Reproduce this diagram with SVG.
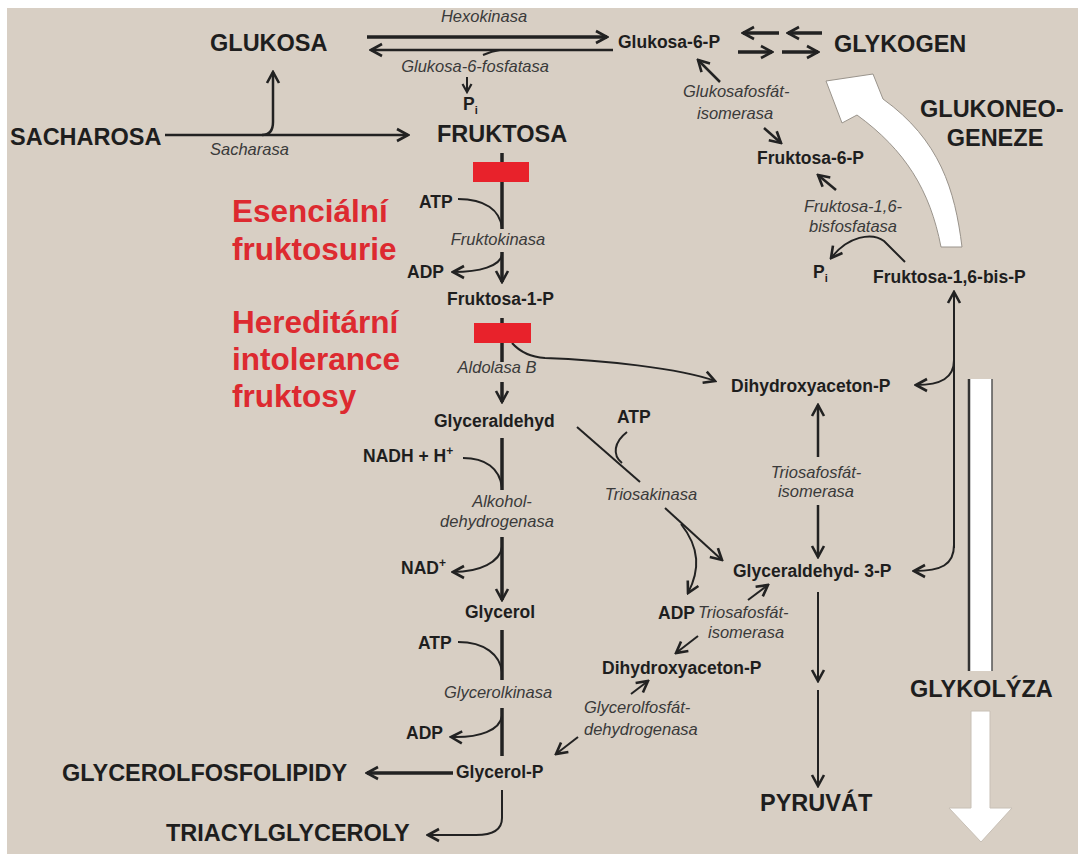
<svg xmlns="http://www.w3.org/2000/svg" width="1078" height="854" viewBox="0 0 1078 854">
<defs>
<style>
.t{font-family:"Liberation Sans",Arial,sans-serif;}
.b{font-weight:bold;fill:#1e1e1e;}
.big{font-size:23.5px;}
.mid{font-size:17.5px;}
.it{font-style:italic;font-size:16.5px;fill:#3a3a3a;}
.red{font-weight:bold;fill:#dd2a30;font-size:31.5px;}
.ln{stroke:#222;stroke-width:2.5;fill:none;}
.thk{stroke-width:3.5;}
.thn{stroke-width:2;}
.blk{fill:#e8222b;}
</style>
<marker id="ah" viewBox="-13 -8 15 16" markerWidth="15" markerHeight="16" refX="0" refY="0" orient="auto" markerUnits="userSpaceOnUse">
<path d="M-11,-6 L0,0 L-11,6" fill="none" stroke="#222" stroke-width="2.6" stroke-linejoin="miter"/>
</marker>
<marker id="ahs" viewBox="-10 -7 12 14" markerWidth="12" markerHeight="14" refX="0" refY="0" orient="auto" markerUnits="userSpaceOnUse">
<path d="M-8,-4.5 L0,0 L-8,4.5" fill="none" stroke="#222" stroke-width="2.2"/>
</marker>
</defs>
<rect x="0" y="0" width="1078" height="854" fill="#ffffff"/>
<rect x="7" y="8" width="1071" height="846" fill="#d8cfc4"/>

<g id="connectors">
<path class="ln thk" d="M367,37 L607,37" marker-end="url(#ah)"/>
<path class="ln" d="M613,50 L371,50" marker-end="url(#ah)"/>
<path class="ln thn" d="M500,50 Q492,51 483,55"/>
<path class="ln thn" d="M467,77 L467,92" marker-end="url(#ahs)"/>
<path class="ln" d="M165,135 L408,135" marker-end="url(#ah)"/>
<path class="ln" d="M262,135 Q273,135 273,122 L273,72" marker-end="url(#ah)"/>
<path class="ln thk" d="M779,33 L743,33" marker-end="url(#ah)"/>
<path class="ln thk" d="M822,33 L788,33" marker-end="url(#ah)"/>
<path class="ln thk" d="M738,52 L772,52" marker-end="url(#ah)"/>
<path class="ln thk" d="M782,52 L818,52" marker-end="url(#ah)"/>
<path class="ln" d="M720,82 L698,60" marker-end="url(#ah)"/>
<path class="ln" d="M764,128 L781,143" marker-end="url(#ah)"/>
<path class="ln" d="M836,190 L818,175" marker-end="url(#ah)"/>
<path class="ln thn" d="M905,262 L884,241 C872,232 848,236 831,258" marker-end="url(#ah)"/>
<path class="ln thk" d="M502,153 L502,229"/>
<path class="ln thn" d="M458,199 C485,199 500,210 502,228"/>
<path class="ln thk" d="M502,252 L502,282" marker-end="url(#ah)"/>
<path class="ln thn" d="M502,255 C500,266 480,272 453,272" marker-end="url(#ah)"/>
<path class="ln thk" d="M502,318 L502,362"/>
<path class="ln thk" d="M502,382 L502,402" marker-end="url(#ah)"/>
<path class="ln thn" d="M512,343 C520,352 530,357 545,358 C600,360 680,368 715,381" marker-end="url(#ah)"/>
<path class="ln thk" d="M502,438 L502,490"/>
<path class="ln thn" d="M463,458 C485,458 500,468 502,488"/>
<path class="ln thk" d="M502,537 L502,600" marker-end="url(#ah)"/>
<path class="ln thn" d="M502,547 C500,562 480,572 453,572" marker-end="url(#ah)"/>
<path class="ln thk" d="M502,630 L502,680"/>
<path class="ln thn" d="M458,642 C485,642 500,655 502,672"/>
<path class="ln thk" d="M502,708 L502,756"/>
<path class="ln thn" d="M502,716 C500,730 480,738 451,737" marker-end="url(#ah)"/>
<path class="ln thk" d="M453,773 L367,773" marker-end="url(#ah)"/>
<path class="ln thn" d="M502,790 L502,818 C502,830 492,835 476,835 L428,835" marker-end="url(#ah)"/>
<path class="ln thn" d="M577,427 L640,482"/>
<path class="ln thn" d="M627,432 C614,442 612,455 622,463"/>
<path class="ln thn" d="M665,508 L722,560" marker-end="url(#ah)"/>
<path class="ln thn" d="M681,524 C700,548 700,570 688,593" marker-end="url(#ah)"/>
<path class="ln thn" d="M748,600 L768,585" marker-end="url(#ah)"/>
<path class="ln thn" d="M698,636 L676,653" marker-end="url(#ah)"/>
<path class="ln thn" d="M631,694 L648,681" marker-end="url(#ah)"/>
<path class="ln thn" d="M578,737 L556,754" marker-end="url(#ah)"/>
<path class="ln" d="M818,457 L818,405" marker-end="url(#ah)"/>
<path class="ln" d="M818,505 L818,557" marker-end="url(#ah)"/>
<path class="ln thn" d="M818,592 L818,681" marker-end="url(#ah)"/>
<path class="ln thn" d="M818,690 L818,786" marker-end="url(#ah)"/>
<path class="ln thn" d="M954,548 L954,292" marker-end="url(#ah)"/>
<path class="ln thn" d="M954,360 C954,378 941,385 916,385" marker-end="url(#ah)"/>
<path class="ln thn" d="M954,545 C954,565 941,571 914,571" marker-end="url(#ah)"/>
</g>

<g id="gluconeogenesis-arrow">
<path d="M941,247 L962,247 C955,190 940,140 883,99 L873,74 L826,81 L842,123 L857,115 C905,150 930,190 941,247 Z" fill="#ffffff" stroke="#9a948c" stroke-width="1"/>
</g>
<g id="glycolysis-arrow">
<rect x="968" y="379" width="24" height="292" fill="#ffffff"/>
<line x1="969" y1="379" x2="969" y2="671" stroke="#333" stroke-width="2.5"/>
<line x1="992" y1="379" x2="992" y2="671" stroke="#555" stroke-width="1.5"/>
<path d="M971,711 L990,711 L990,808 L1012,808 L981,842 L949,808 L971,808 Z" fill="#ffffff" stroke="#c8c0b6" stroke-width="1"/>
</g>

<g id="blocks">
<rect class="blk" x="473" y="162" width="56" height="20"/>
<rect class="blk" x="474" y="323" width="57" height="20"/>
</g>

<g id="n-glukosa"><text class="t b big" x="210" y="51">GLUKOSA</text></g>
<g id="n-sacharosa"><text class="t b big" x="10" y="145">SACHAROSA</text></g>
<g id="n-fruktosa"><text class="t b big" x="437" y="142">FRUKTOSA</text></g>
<g id="n-glykogen"><text class="t b big" x="834" y="52">GLYKOGEN</text></g>
<g id="n-glukoneogeneze"><text class="t b big" x="920" y="117">GLUKONEO-</text><text class="t b big" x="995" y="146" text-anchor="middle">GENEZE</text></g>
<g id="n-glyk"><text class="t b big" x="910" y="697">GLYKOLÝZA</text></g>
<g id="n-pyruvat"><text class="t b big" x="760" y="811">PYRUVÁT</text></g>
<g id="n-gpl"><text class="t b big" x="62" y="781">GLYCEROLFOSFOLIPIDY</text></g>
<g id="n-tag"><text class="t b big" x="166" y="841">TRIACYLGLYCEROLY</text></g>

<g id="n-g6p"><text class="t b mid" x="618" y="48">Glukosa-6-P</text></g>
<g id="n-f6p"><text class="t b mid" x="757" y="164">Fruktosa-6-P</text></g>
<g id="n-f16bp"><text class="t b mid" x="873" y="283">Fruktosa-1,6-bis-P</text></g>
<g id="n-pi1"><text class="t b mid" x="463" y="110">P<tspan font-size="11" dy="4">i</tspan></text></g>
<g id="n-pi2"><text class="t b mid" x="813" y="278">P<tspan font-size="11" dy="4">i</tspan></text></g>
<g id="n-f1p"><text class="t b mid" x="447" y="305">Fruktosa-1-P</text></g>
<g id="n-dhap1"><text class="t b mid" x="731" y="392">Dihydroxyaceton-P</text></g>
<g id="n-ga"><text class="t b mid" x="434" y="427">Glyceraldehyd</text></g>
<g id="n-ga3p"><text class="t b mid" x="733" y="577">Glyceraldehyd- 3-P</text></g>
<g id="n-glycerol"><text class="t b mid" x="465" y="618">Glycerol</text></g>
<g id="n-dhap2"><text class="t b mid" x="602" y="674">Dihydroxyaceton-P</text></g>
<g id="n-glycerolp"><text class="t b mid" x="456" y="778">Glycerol-P</text></g>

<g id="cofactors">
<text class="t b mid" x="419" y="208">ATP</text>
<text class="t b mid" x="407" y="278">ADP</text>
<text class="t b mid" x="363" y="462">NADH + H<tspan font-size="12" dy="-7">+</tspan></text>
<text class="t b mid" x="401" y="574">NAD<tspan font-size="12" dy="-7">+</tspan></text>
<text class="t b mid" x="418" y="649">ATP</text>
<text class="t b mid" x="406" y="739">ADP</text>
<text class="t b mid" x="617" y="423">ATP</text>
<text class="t b mid" x="658" y="619">ADP</text>
</g>

<g id="enzymes">
<text class="t it" x="484" y="22" text-anchor="middle">Hexokinasa</text>
<text class="t it" x="475" y="72" text-anchor="middle">Glukosa-6-fosfatasa</text>
<text class="t it" x="210" y="155">Sacharasa</text>
<text class="t it" x="683" y="97">Glukosafosfát-</text>
<text class="t it" x="697" y="119">isomerasa</text>
<text class="t it" x="853" y="212" text-anchor="middle">Fruktosa-1,6-</text>
<text class="t it" x="853" y="232" text-anchor="middle">bisfosfatasa</text>
<text class="t it" x="498" y="245" text-anchor="middle">Fruktokinasa</text>
<text class="t it" x="497" y="373" text-anchor="middle">Aldolasa B</text>
<text class="t it" x="502" y="507" text-anchor="middle">Alkohol-</text>
<text class="t it" x="497" y="527" text-anchor="middle">dehydrogenasa</text>
<text class="t it" x="651" y="500" text-anchor="middle">Triosakinasa</text>
<text class="t it" x="816" y="478" text-anchor="middle">Triosafosfát-</text>
<text class="t it" x="816" y="497" text-anchor="middle">isomerasa</text>
<text class="t it" x="698" y="618">Triosafosfát-</text>
<text class="t it" x="708" y="638">isomerasa</text>
<text class="t it" x="498" y="698" text-anchor="middle">Glycerolkinasa</text>
<text class="t it" x="584" y="713">Glycerolfosfát-</text>
<text class="t it" x="584" y="735">dehydrogenasa</text>
</g>

<g id="diseases">
<text class="t red" x="232" y="222">Esenciální</text>
<text class="t red" x="232" y="260">fruktosurie</text>
<text class="t red" x="232" y="333">Hereditární</text>
<text class="t red" x="232" y="370">intolerance</text>
<text class="t red" x="232" y="407">fruktosy</text>
</g>
</svg>
